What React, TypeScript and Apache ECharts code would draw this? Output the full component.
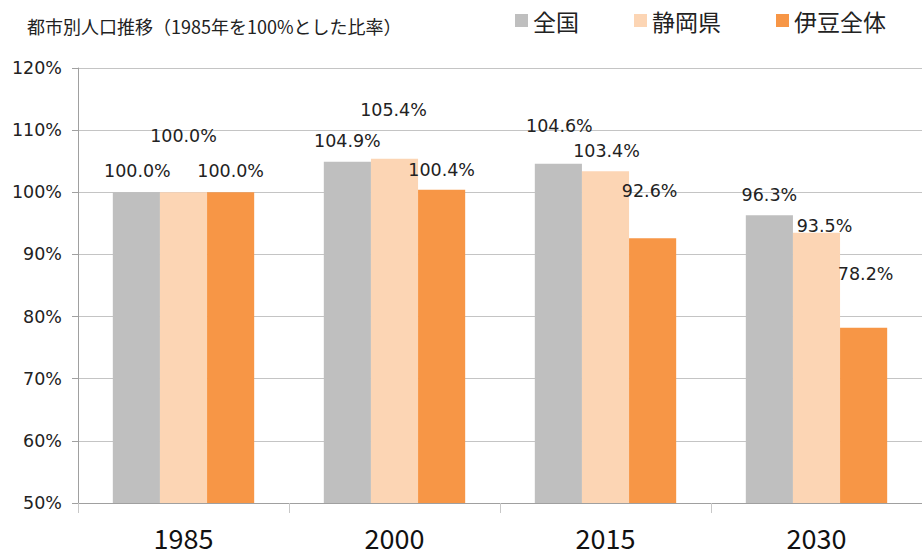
import React, { useEffect, useRef } from "react";
import * as echarts from "echarts";

const categories = ["1985", "2000", "2015", "2030"];
const seriesNames = ["全国", "静岡県", "伊豆全体"];
const nationalValues = [100.0, 104.9, 104.6, 96.3];
const shizuokaValues = [100.0, 105.4, 103.4, 93.5];
const izuValues = [100.0, 100.4, 92.6, 78.2];
const yTicks = { min: 50, max: 120, interval: 10 };
const titleText = "都市別人口推移（1985年を100%とした比率）";

// label placement tweaks (pixels) to mimic the original layout
const nationalLabelOffsets = [[1, -12], [0, -12], [1, -29], [0, -11]];
const shizuokaLabelOffsets = [[0, -47], [-1, -40], [1, -11], [8, 2]];
const izuLabelOffsets = [[0, -12], [0, -11], [-3, -38], [2, -45]];

const colors = ["#bfbfbf", "#fcd5b4", "#f79646"];
const numFont = "DejaVu Sans";
const cjkFont = "Noto Sans CJK JP";

function makeSeries(name: string, values: number[], offsets: number[][], color: string) {
  return {
    name,
    type: "bar",
    barGap: "0%",
    barCategoryGap: "33%",
    itemStyle: { color },
    data: values.map((v, i) => ({
      value: v,
      label: { offset: offsets[i] },
    })),
    label: {
      show: true,
      position: "top",
      distance: 0,
      fontFamily: numFont,
      fontSize: 17.5,
      color: "#222",
      formatter: (p: any) => Number(p.value).toFixed(1) + "%",
    },
  };
}

export default function App() {
  const ref = useRef<HTMLDivElement>(null);
  useEffect(() => {
    if (!ref.current) return;
    const chart = echarts.init(ref.current, null, { renderer: "svg" });
    chart.setOption({
      animation: false,
      backgroundColor: "#ffffff",
      title: {
        text: titleText,
        left: 22,
        top: 12,
        textStyle: { fontFamily: cjkFont, fontSize: 18, fontWeight: "normal", color: "#222" },
      },
      legend: {
        left: 510,
        top: 4,
        icon: "rect",
        itemWidth: 13,
        itemHeight: 13,
        itemGap: 55,
        data: seriesNames,
        textStyle: { fontFamily: cjkFont, fontSize: 23, color: "#222" },
      },
      grid: { left: 78, right: -1, top: 68, bottom: 53, containLabel: false },
      xAxis: {
        type: "category",
        data: categories,
        axisLine: { lineStyle: { color: "#a0a0a0" } },
        axisTick: { show: true, length: 10, lineStyle: { color: "#c8c8c8" } },
        axisLabel: {
          fontFamily: cjkFont,
          fontSize: 27,
          lineHeight: 26,
          color: "#111",
          margin: 21,
        },
      },
      yAxis: {
        type: "value",
        min: yTicks.min,
        max: yTicks.max,
        interval: yTicks.interval,
        axisLine: { show: true, lineStyle: { color: "#a0a0a0" } },
        axisTick: { show: true, inside: false, length: 6, lineStyle: { color: "#a0a0a0" } },
        splitLine: { lineStyle: { color: "#c4c4c4" } },
        axisLabel: {
          fontFamily: numFont,
          fontSize: 17.5,
          color: "#222",
          margin: 16,
          formatter: "{value}%",
        },
      },
      series: [
        makeSeries(seriesNames[0], nationalValues, nationalLabelOffsets, colors[0]),
        makeSeries(seriesNames[1], shizuokaValues, shizuokaLabelOffsets, colors[1]),
        makeSeries(seriesNames[2], izuValues, izuLabelOffsets, colors[2]),
      ],
    });
    return () => chart.dispose();
  }, []);
  return <div ref={ref} style={{ width: 922, height: 556, position: "absolute", left: 0, top: 0 }} />;
}
